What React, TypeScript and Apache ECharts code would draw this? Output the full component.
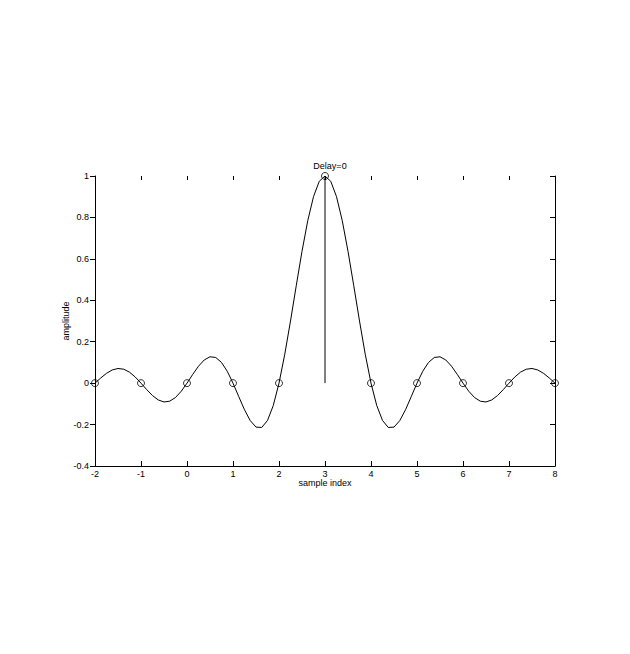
import React, { useEffect, useRef } from "react";
import * as echarts from "echarts";

const curveXStart = -2;
const curveXStep = 0.125;
const curveY: number[] = [
  0, 0.025, 0.0474, 0.0636, 0.0707, 0.0672, 0.053, 0.0295,
  0, -0.0314, -0.06, -0.0811, -0.0909, -0.0871, -0.0693, -0.039,
  0, 0.0424, 0.0818, 0.112, 0.1273, 0.1238, 0.1, 0.0573,
  0, -0.065, -0.1286, -0.181, -0.2122, -0.2139, -0.1801, -0.1083,
  0, 0.1392, 0.3001, 0.4705, 0.6366, 0.7842, 0.9003, 0.9745,
  1,
  0.9745, 0.9003, 0.7842, 0.6366, 0.4705, 0.3001, 0.1392, 0,
  -0.1083, -0.1801, -0.2139, -0.2122, -0.181, -0.1286, -0.065, 0,
  0.0573, 0.1, 0.1238, 0.1273, 0.112, 0.0818, 0.0424, 0,
  -0.039, -0.0693, -0.0871, -0.0909, -0.0811, -0.06, -0.0314, 0,
  0.0295, 0.053, 0.0672, 0.0707, 0.0636, 0.0474, 0.025, 0,
];
// Sample points (circles)
const sampleX: number[] = [-2, -1, 0, 1, 2, 3, 4, 5, 6, 7, 8];
const sampleY: number[] = [0, 0, 0, 0, 0, 1, 0, 0, 0, 0, 0];
// Stem
const stemX = 3;
const stemTop = 1;

const titleText = "Delay=0";
const xLabel = "sample index";
const yLabel = "amplitude";

export default function App() {
  const ref = useRef<HTMLDivElement>(null);
  useEffect(() => {
    if (!ref.current) return;
    const chart = echarts.init(ref.current, null, { renderer: "svg" });
    const font = "Liberation Sans";
    const axisLabelStyle = { color: "#000", fontSize: 9, fontFamily: font };
    chart.setOption({
      animation: false,
      backgroundColor: "#fff",
      title: {
        text: titleText,
        left: 325,
        textAlign: "center",
        top: 156,
        textStyle: { color: "#000", fontSize: 9, fontWeight: "normal", fontFamily: font },
      },
      grid: { left: 95, right: 75, top: 176, bottom: 188 },
      xAxis: [
        {
          type: "value",
          min: -2,
          max: 8,
          interval: 1,
          position: "bottom",
          name: xLabel,
          nameLocation: "middle",
          nameGap: 12,
          nameTextStyle: { color: "#000", fontSize: 9, fontFamily: font },
          axisLine: { show: true, onZero: false, lineStyle: { color: "#000", width: 1 } },
          axisTick: { show: true, inside: true, length: 5, lineStyle: { color: "#000" } },
          axisLabel: { ...axisLabelStyle, margin: 3 },
          splitLine: { show: false },
        },
        {
          type: "value",
          min: -2,
          max: 8,
          interval: 1,
          position: "top",
          axisLine: { show: false, onZero: false },
          axisTick: { show: true, inside: true, length: 4, lineStyle: { color: "#000" } },
          axisLabel: { show: false },
          splitLine: { show: false },
        },
      ],
      yAxis: [
        {
          type: "value",
          min: -0.4,
          max: 1,
          interval: 0.2,
          position: "left",
          name: yLabel,
          nameLocation: "middle",
          nameGap: 25,
          nameRotate: 90,
          nameMoveOverlap: false,
          nameTextStyle: { color: "#000", fontSize: 9, fontFamily: font },
          axisLine: { show: true, onZero: false, lineStyle: { color: "#000", width: 1 } },
          axisTick: { show: true, inside: false, length: 5, lineStyle: { color: "#000" } },
          axisLabel: {
            ...axisLabelStyle,
            margin: 6,
            formatter: (v: number) => String(Math.round(v * 10) / 10),
          },
          splitLine: { show: false },
        },
        {
          type: "value",
          min: -0.4,
          max: 1,
          interval: 0.2,
          position: "right",
          axisLine: { show: true, onZero: false, lineStyle: { color: "#000", width: 1 } },
          axisTick: { show: true, inside: true, length: 5, lineStyle: { color: "#000" } },
          axisLabel: { show: false },
          splitLine: { show: false },
        },
      ],
      series: [
        {
          type: "line",
          data: curveY.map((y, i) => [curveXStart + i * curveXStep, y]),
          smooth: false,
          showSymbol: false,
          symbol: "none",
          lineStyle: { color: "#000", width: 1 },
          z: 2,
        },
        {
          type: "line",
          data: [
            [stemX, 0],
            [stemX, stemTop],
          ],
          symbol: "none",
          lineStyle: { color: "#000", width: 1 },
          z: 2,
        },
        {
          type: "scatter",
          data: sampleX.map((x, i) => [x, sampleY[i]]),
          symbol: "circle",
          symbolSize: 7,
          itemStyle: { color: "rgba(255,255,255,0)", borderColor: "#000", borderWidth: 1 },
          z: 3,
        },
      ],
    });
    return () => chart.dispose();
  }, []);
  return (
    <div
      ref={ref}
      style={{ position: "fixed", left: 0, top: 0, width: 630, height: 654, background: "#fff" }}
    />
  );
}
